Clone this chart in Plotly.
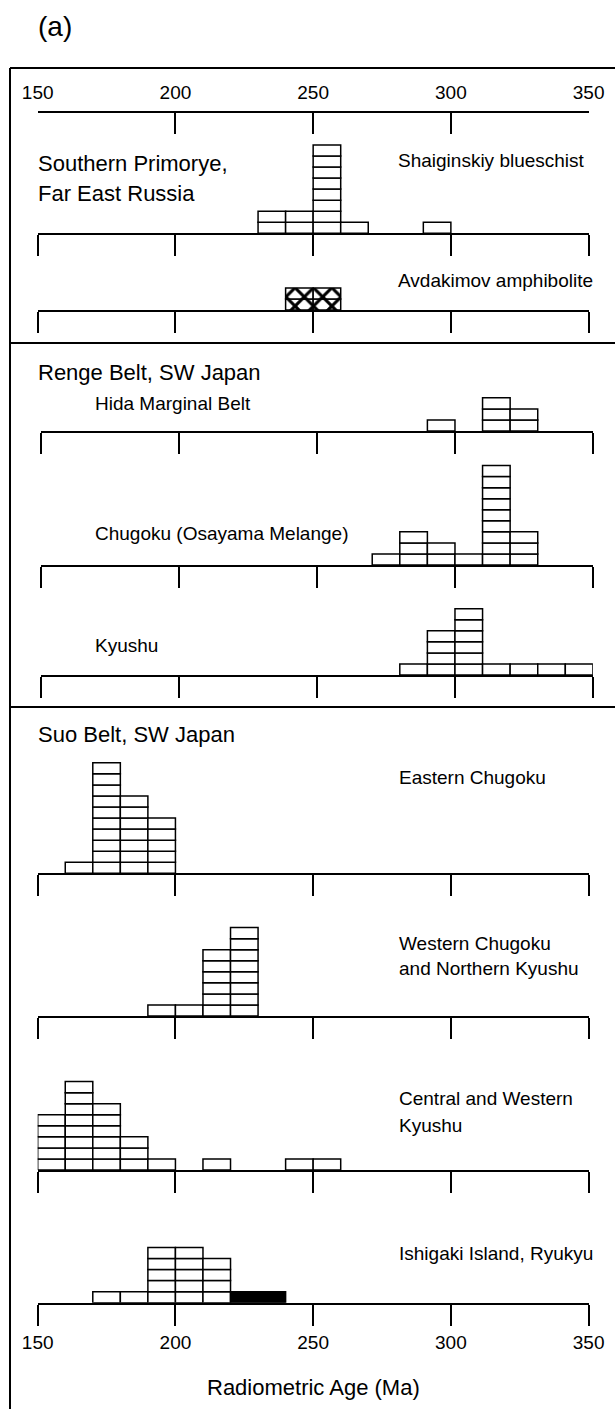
import plotly.graph_objects as go

W, H = 615, 1409
BIN = 10

# ---------------- data (bin start ages in Ma, counts per 10-Ma bin) ----------------
tick_vals = [150, 200, 250, 300, 350]
tick_text = ["150", "200", "250", "300", "350"]

shaig_start = [230, 240, 250, 260, 290]
shaig_count = [2, 2, 8, 1, 1]

avdak_start = [240, 250]
avdak_count = [2, 2]

hida_start = [290, 310, 320]
hida_count = [1, 3, 2]

osay_start = [270, 280, 290, 300, 310, 320]
osay_count = [1, 3, 2, 1, 9, 3]

kyu_start = [280, 290, 300, 310, 320, 330, 340]
kyu_count = [1, 4, 6, 1, 1, 1, 1]

echu_start = [160, 170, 180, 190]
echu_count = [1, 10, 7, 5]

wchu_start = [190, 200, 210, 220]
wchu_count = [1, 1, 6, 8]

cwk_start = [150, 160, 170, 180, 190, 210, 240, 250]
cwk_count = [5, 8, 6, 3, 1, 1, 1, 1]

ishi_start = [170, 180, 190, 200, 210]
ishi_count = [1, 1, 5, 5, 4]

ishi_black_start = [220]
ishi_black_end = [240]
ishi_black_count = [1]

# ---------------- layout helpers ----------------
def yp(py):
    return 1 - py / H

def xp(px):
    return px / W

UNIT = 11.05          # pixel height of one count
R = 12                # y range (counts) of each histogram subplot
FONT = "Liberation Sans, Arial, Helvetica, sans-serif"

# (baseline pixel, x-domain pixels) for each histogram
dom_a = (37.7, 588.6)
dom_b = (41.2, 592.9)
panels = [
    dict(start=shaig_start, count=shaig_count, base=233.3, dom=dom_a, hatch=False),
    dict(start=avdak_start, count=avdak_count, base=310.0, dom=dom_a, hatch=True),
    dict(start=hida_start, count=hida_count, base=431.0, dom=dom_b, hatch=False),
    dict(start=osay_start, count=osay_count, base=565.0, dom=dom_b, hatch=False),
    dict(start=kyu_start, count=kyu_count, base=675.0, dom=dom_b, hatch=False),
    dict(start=echu_start, count=echu_count, base=873.3, dom=dom_a, hatch=False),
    dict(start=wchu_start, count=wchu_count, base=1016.0, dom=dom_a, hatch=False),
    dict(start=cwk_start, count=cwk_count, base=1170.0, dom=dom_a, hatch=False),
    dict(start=ishi_start, count=ishi_count, base=1302.7, dom=dom_a, hatch=False),
]

fig = go.Figure()
layout = {}

def axname(i, kind):
    return kind + ("" if i == 1 else str(i))

for i, p in enumerate(panels, start=1):
    xs, bases = [], []
    for s, c in zip(p["start"], p["count"]):
        for k in range(c):
            xs.append(s + BIN / 2)
            bases.append(k)
    marker = dict(color="white", line=dict(color="black", width=1.5))
    if p["hatch"]:
        marker["pattern"] = dict(shape="x", fgcolor="black", bgcolor="white",
                                 fgopacity=1, size=13, solidity=0.42)
    fig.add_trace(go.Bar(
        x=xs, y=[1] * len(xs), base=bases, width=BIN,
        marker=marker, showlegend=False, hoverinfo="skip",
        xaxis=axname(i, "x"), yaxis=axname(i, "y"),
    ))
    last = (i == len(panels))
    layout[axname(i, "xaxis")] = dict(
        domain=[xp(p["dom"][0]), xp(p["dom"][1])],
        range=[150, 350], anchor=axname(i, "y"),
        showline=True, linecolor="black", linewidth=2,
        ticks="outside", ticklen=21, tickwidth=1.6, tickcolor="black",
        tickvals=tick_vals, ticktext=tick_text,
        showticklabels=last, showgrid=False, zeroline=False,
        tickfont=dict(family=FONT, size=19, color="black"),
        automargin=False, fixedrange=True,
    )
    layout[axname(i, "yaxis")] = dict(
        domain=[yp(p["base"]), yp(p["base"] - UNIT * R)],
        range=[0, R], visible=False, fixedrange=True,
        anchor=axname(i, "x"), automargin=False,
    )

# black bar (Ishigaki)
fig.add_trace(go.Bar(
    x=[(s + e) / 2 for s, e in zip(ishi_black_start, ishi_black_end)],
    y=ishi_black_count, base=[0] * len(ishi_black_start),
    width=[e - s for s, e in zip(ishi_black_start, ishi_black_end)],
    marker=dict(color="black", line=dict(color="black", width=1.5)),
    showlegend=False, hoverinfo="skip", xaxis="x9", yaxis="y9",
))

# top scale axis (panel 1)
fig.add_trace(go.Scatter(x=[], y=[], xaxis="x10", yaxis="y10", showlegend=False))
layout["xaxis10"] = dict(
    domain=[xp(dom_a[0]), xp(dom_a[1])], range=[150, 350], anchor="y10",
    side="top", showline=True, linecolor="black", linewidth=2,
    ticks="inside", ticklen=21, tickwidth=1.6, tickcolor="black",
    tickvals=tick_vals, ticktext=tick_text, showgrid=False, zeroline=False,
    tickfont=dict(family=FONT, size=19, color="black"), ticklabelstandoff=4,
    automargin=False, fixedrange=True,
)
layout["yaxis10"] = dict(domain=[yp(140), yp(113)], range=[0, 1], visible=False,
                         anchor="x10", fixedrange=True, automargin=False)

# ---------------- texts ----------------
ann = []
def txt(text, x, y, size=19, xref="paper", xanchor="left"):
    ann.append(dict(text=text, x=x, y=yp(y), xref=xref, yref="paper",
                    xanchor=xanchor, yanchor="middle", showarrow=False,
                    font=dict(family=FONT, size=size, color="black")))

txt("(a)", xp(36), 27, size=28)
txt("Southern Primorye,", xp(36), 163, size=22)
txt("Far East Russia", xp(36), 193, size=22)
txt("Shaiginskiy blueschist", 280, 160, xref="x")
txt("Avdakimov amphibolite", 280, 280, xref="x2")
txt("Renge Belt, SW Japan", xp(36), 372, size=22)
txt("Hida Marginal Belt", 168.8, 403, xref="x3")
txt("Chugoku (Osayama Melange)", 168.8, 533, xref="x4")
txt("Kyushu", 168.8, 645, xref="x5")
txt("Suo Belt, SW Japan", xp(36), 735, size=22)
txt("Eastern Chugoku", 280.4, 777, xref="x6")
txt("Western Chugoku", 280.4, 943, xref="x7")
txt("and Northern Kyushu", 280.4, 968, xref="x7")
txt("Central and Western", 280.4, 1098, xref="x8")
txt("Kyushu", 280.4, 1125, xref="x8")
txt("Ishigaki Island, Ryukyu", 280.4, 1253, xref="x9")
txt("Radiometric Age (Ma)", 250, 1387, size=22, xref="x9", xanchor="center")

# ---------------- frame ----------------
shapes = []
def line(x0, y0, x1, y1):
    shapes.append(dict(type="line", xref="paper", yref="paper",
                       x0=x0, y0=y0, x1=x1, y1=y1,
                       line=dict(color="black", width=2)))

line(xp(10), yp(68), xp(10), 0)
for yy in (68, 343, 707):
    line(xp(10), yp(yy), 1, yp(yy))

fig.update_layout(
    width=W, height=H,
    margin=dict(l=0, r=0, t=0, b=0, pad=0, autoexpand=False),
    paper_bgcolor="white", plot_bgcolor="rgba(0,0,0,0)",
    barmode="overlay", annotations=ann, shapes=shapes,
    font=dict(family=FONT, color="black"),
    **layout,
)

fig.write_html("out.html")
